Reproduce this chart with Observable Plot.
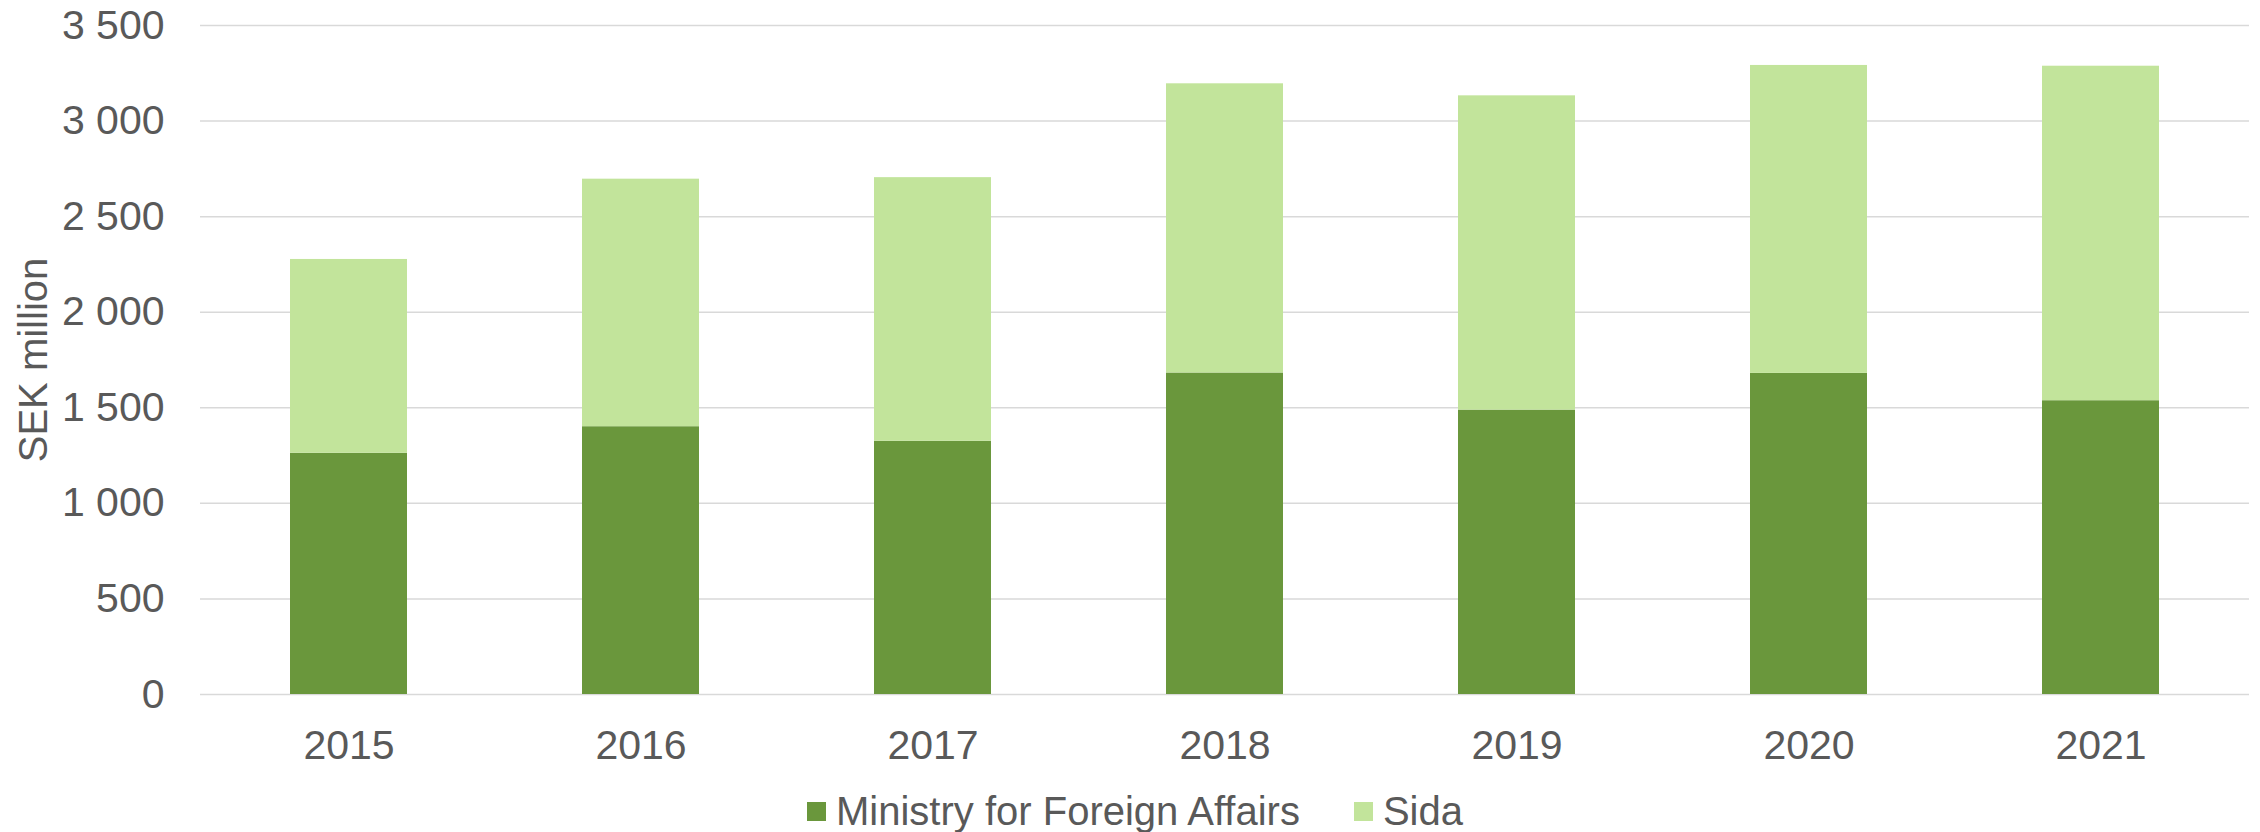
<!DOCTYPE html>
<html>
<head>
<meta charset="utf-8">
<script src="https://cdn.jsdelivr.net/npm/d3@7"></script>
<script src="https://cdn.jsdelivr.net/npm/@observablehq/plot@0.6"></script>
<style>
  html, body { margin: 0; padding: 0; background: #fff; }
  body { width: 2260px; height: 832px; overflow: hidden; font-family: "Liberation Sans", Arial, sans-serif; color: #595959; }
  #legend { display: flex; justify-content: center; align-items: center; height: 46px; margin-top: 13px; font-size: 40px; line-height: 46px; padding-left: 10px; }
  .item { display: flex; align-items: center; margin: 0 27px; }
  .sw { width: 19px; height: 19px; margin-right: 10px; }
</style>
</head>
<body>
<div id="chart"></div>
<div id="legend"></div>
<script>
const years = ["2015", "2016", "2017", "2018", "2019", "2020", "2021"];
const seriesNames = ["Ministry for Foreign Affairs", "Sida"];
const mfa  = [1262, 1401, 1325, 1682, 1488, 1680, 1537];
const sida = [1014, 1295, 1379, 1513, 1644, 1611, 1750];
const colors = ["#6A973C", "#C2E49B"];
const yTicks = [0, 500, 1000, 1500, 2000, 2500, 3000, 3500];

const rows = [];
years.forEach((y, i) => {
  rows.push({year: y, series: seriesNames[0], value: mfa[i]});
  rows.push({year: y, series: seriesNames[1], value: sida[i]});
});

const fmt = d => d3.format(",")(d).replace(/,/g, " ");

const chart = Plot.plot({
  width: 2260,
  height: 775,
  marginTop: 25,
  marginBottom: 81,
  marginLeft: 200,
  marginRight: 11,
  style: {fontFamily: "'Liberation Sans', Arial, sans-serif", fontSize: "41px", color: "#595959", background: "#fff"},
  x: {domain: years, paddingInner: 0.6, paddingOuter: 0.3, label: null},
  y: {domain: [0, 3500], label: null},
  color: {domain: seriesNames, range: colors},
  marks: [
    Plot.ruleY(yTicks, {stroke: "#D9D9D9", strokeWidth: 1.5}),
    Plot.barY(rows, {x: "year", y: "value", fill: "series", order: seriesNames}),
    Plot.axisX({tickSize: 0, tickPadding: 35, fontSize: 41, fill: "#595959", label: null}),
    Plot.axisY({ticks: yTicks, tickSize: 0, tickPadding: 36, tickFormat: fmt, fontSize: 41, fill: "#595959", label: null}),
    Plot.text(["SEK million"], {frameAnchor: "left", textAnchor: "middle", dx: -166, rotate: -90, fontSize: 40, fill: "#595959", text: d => d, y: () => 1750})
  ]
});
document.getElementById("chart").appendChild(chart);

const legend = document.getElementById("legend");
seriesNames.forEach((s, i) => {
  const it = document.createElement("div");
  it.className = "item";
  const sw = document.createElement("div");
  sw.className = "sw";
  sw.style.background = colors[i];
  const t = document.createElement("span");
  t.textContent = s;
  it.appendChild(sw); it.appendChild(t);
  legend.appendChild(it);
});
</script>
</body>
</html>
